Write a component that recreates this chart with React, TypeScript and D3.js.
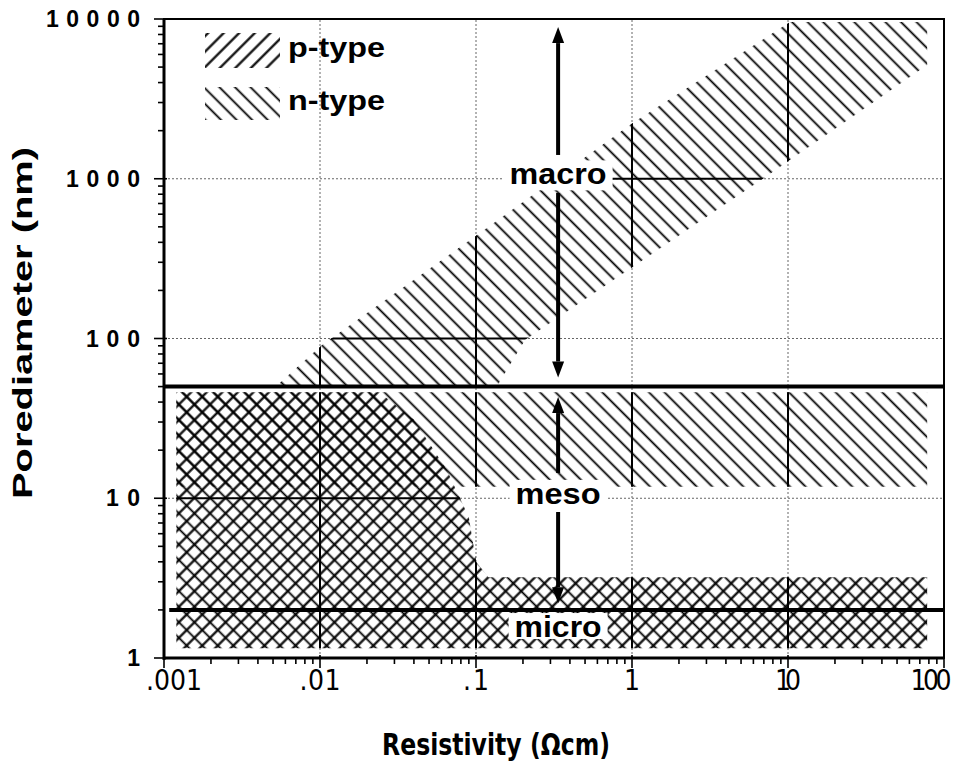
import React from "react";
import * as d3 from "d3";

// axis ticks
const xTickValues = [0.001, 0.01, 0.1, 1, 10, 100];
const xTickLabels = [".001", ".01", ".1", "1", "10", "100"];
const yTickValues = [1, 10, 100, 1000, 10000];
const yTickLabels = ["1", "10", "100", "1000", "10000"];

// regions: [resistivity Ωcm, pore diameter nm]
const macroBand = [
  [0.0052, 50], [0.0103, 91], [0.106, 458], [1.01, 2230], [10.3, 9580],
  [78, 9580], [78, 5150], [6.9, 1000], [0.206, 98], [0.136, 50],
];
const mesoBand = [[0.0012, 46], [78, 46], [78, 11.8], [0.0012, 11.8]];
const pRegion = [
  [0.0012, 46], [0.024, 46], [0.04, 31], [0.065, 15], [0.09, 7.6], [0.1, 4],
  [0.12, 3.2], [78, 3.2], [78, 1.15], [0.0012, 1.15],
];
const nRegions = [macroBand, mesoBand, pRegion];
const pRegions = [pRegion];

// borders between micro / meso / macro
const boundaryValues = [50, 2];
const boundaryStart = [0.001, 0.00108];

// arrows: x, from, to
const arrowX = 0.336;
const arrowFrom = [1409, 815, 14.4, 8.2];
const arrowTo = [8900, 57, 43, 2.2];

const labelNames = ["macro", "meso", "micro"];
const labelY = [1050, 10.5, 1.54];
const labelWidths = [97, 85, 87];

const W = 977;
const H = 775;

export default function App() {
  const x = d3.scaleLog().domain([0.001, 100]).range([164, 944]);
  const y = d3.scaleLog().domain([1, 10000]).range([658, 19]);
  const area = d3
    .line<number[]>()
    .x((d) => x(d[0]))
    .y((d) => y(d[1]))
    .curve(d3.curveLinearClosed);

  const gridX = xTickValues.slice(1, -1);
  const gridY = yTickValues.slice(1, -1);
  const minorX = x.ticks();
  const minorY = y.ticks();
  const [x0, x1] = x.range();
  const [y0, y1] = y.range();

  const gridLines = (stroke: string, width: number, dash?: string) => (
    <g stroke={stroke} strokeWidth={width} strokeDasharray={dash}>
      {gridX.map((v) => (
        <line key={"gx" + v} x1={x(v)} x2={x(v)} y1={y0} y2={y1} />
      ))}
      {gridY.map((v) => (
        <line key={"gy" + v} x1={x0} x2={x1} y1={y(v)} y2={y(v)} />
      ))}
    </g>
  );

  const font = "'Liberation Sans', Arial, Helvetica, sans-serif";
  const narrow = "'Liberation Sans Narrow', 'DejaVu Sans Condensed', 'Liberation Sans', sans-serif";

  return (
    <svg
      width={W}
      height={H}
      style={{ position: "absolute", left: 0, top: 0, background: "#fff" }}
    >
      <defs>
        <pattern id="hatchN" patternUnits="userSpaceOnUse" width={11} height={11} patternTransform="rotate(-45)">
          <line x1={5.5} x2={5.5} y1={0} y2={11} stroke="#000" strokeWidth={1.8} />
        </pattern>
        <pattern id="hatchP" patternUnits="userSpaceOnUse" width={11} height={11} patternTransform="rotate(45)">
          <line x1={5.5} x2={5.5} y1={0} y2={11} stroke="#000" strokeWidth={2.2} />
        </pattern>
        <clipPath id="hatchedClip">
          {nRegions.map((r, i) => (
            <path key={i} d={area(r) || ""} />
          ))}
        </clipPath>
      </defs>

      <rect x={0} y={0} width={W} height={H} fill="#fff" />

      {/* dotted grid */}
      {gridLines("#666", 1, "2 2")}

      {/* hatched regions */}
      {nRegions.map((r, i) => (
        <path key={"n" + i} d={area(r) || ""} fill="url(#hatchN)" />
      ))}
      {pRegions.map((r, i) => (
        <path key={"p" + i} d={area(r) || ""} fill="url(#hatchP)" />
      ))}

      {/* grid drawn solid where it runs through the hatching */}
      <g clipPath="url(#hatchedClip)">{gridLines("#000", 2)}</g>

      {/* micro / meso / macro borders */}
      {boundaryValues.map((v, i) => (
        <line key={v} x1={x(boundaryStart[i])} x2={x1} y1={y(v)} y2={y(v)} stroke="#000" strokeWidth={4} />
      ))}

      {/* frame */}
      <rect x={x0} y={y1} width={x1 - x0} height={y0 - y1} fill="none" stroke="#000" strokeWidth={2} />
      <line x1={x0} x2={x0} y1={y1} y2={y0 + 2} stroke="#000" strokeWidth={3} />
      <line x1={x0} x2={x1} y1={y0} y2={y0} stroke="#000" strokeWidth={3} />

      {/* ticks */}
      <g stroke="#000" strokeWidth={1.6}>
        {minorX.map((v, i) => {
          const major = xTickValues.includes(v);
          return <line key={"tx" + i} x1={x(v)} x2={x(v)} y1={y0 - (major ? 3 : 0)} y2={y0 + (major ? 10 : 6)} />;
        })}
        {minorY.map((v, i) => {
          const major = yTickValues.includes(v);
          return <line key={"ty" + i} x1={x0 - (major ? 10 : 6)} x2={x0 + (major ? 3 : 0)} y1={y(v)} y2={y(v)} />;
        })}
      </g>

      {/* tick labels */}
      {xTickValues.map((v, i) => {
        const s = xTickLabels[i];
        const cx = Math.min(Math.max(x(v), x0 + 10), x1 - 13);
        return (
          <text
            key={"xl" + v}
            x={cx}
            y={690}
            textAnchor="middle"
            fontFamily={narrow}
            fontSize={28}
            textLength={s.length * 15 - 4}
            lengthAdjust="spacing"
            fill="#000"
          >
            {s}
          </text>
        );
      })}
      {yTickValues.map((v, i) => {
        const s = yTickLabels[i];
        return (
          <text
            key={"yl" + v}
            x={140}
            y={y(v) + 8}
            textAnchor="end"
            fontFamily={font}
            fontWeight="bold"
            fontSize={23}
            textLength={s.length * 20 - 6}
            lengthAdjust="spacing"
            fill="#000"
          >
            {s}
          </text>
        );
      })}

      {/* axis titles */}
      <text
        x={496}
        y={755}
        textAnchor="middle"
        fontFamily={narrow}
        fontWeight="bold"
        fontSize={30}
        textLength={228}
        lengthAdjust="spacingAndGlyphs"
        fill="#000"
      >
        Resistivity (Ωcm)
      </text>
      <text
        transform="translate(32,323) rotate(-90)"
        textAnchor="middle"
        fontFamily={font}
        fontWeight="bold"
        fontSize={28}
        textLength={352}
        lengthAdjust="spacingAndGlyphs"
        fill="#000"
      >
        Porediameter  (nm)
      </text>

      {/* arrows */}
      {arrowFrom.map((f, i) => {
        const ax = x(arrowX);
        const yf = y(f);
        const yt = y(arrowTo[i]);
        const dir = yt < yf ? -1 : 1;
        const base = yt - dir * 16;
        return (
          <g key={"a" + i} fill="#000">
            <line x1={ax} x2={ax} y1={yf} y2={base} stroke="#000" strokeWidth={4} />
            <path d={`M${ax},${yt}L${ax - 6},${base}L${ax + 6},${base}Z`} />
          </g>
        );
      })}

      {/* region labels */}
      {labelNames.map((t, i) => {
        const cx = x(arrowX);
        const cy = y(labelY[i]);
        const w = labelWidths[i];
        return (
          <g key={t}>
            <rect x={cx - w / 2 - 6} y={cy - 15} width={w + 12} height={i === 2 ? 26 : 30} fill="#fff" />
            <text
              x={cx}
              y={cy + 9}
              textAnchor="middle"
              fontFamily={font}
              fontWeight="bold"
              fontSize={30}
              textLength={w}
              lengthAdjust="spacingAndGlyphs"
              fill="#000"
            >
              {t}
            </text>
          </g>
        );
      })}

      {/* legend */}
      <rect x={205} y={33} width={75} height={35} fill="url(#hatchP)" />
      <rect x={205} y={87} width={75} height={33} fill="url(#hatchN)" />
      <text x={288} y={57} fontFamily={font} fontWeight="bold" fontSize={28} textLength={97} lengthAdjust="spacingAndGlyphs" fill="#000">
        p-type
      </text>
      <text x={288} y={110} fontFamily={font} fontWeight="bold" fontSize={28} textLength={97} lengthAdjust="spacingAndGlyphs" fill="#000">
        n-type
      </text>
    </svg>
  );
}
